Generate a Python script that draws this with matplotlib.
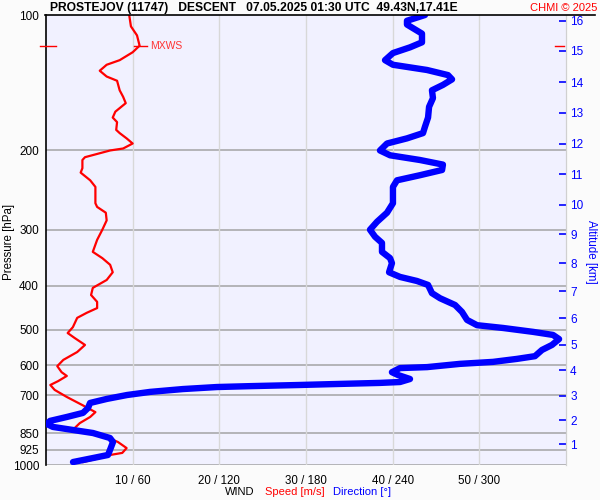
import matplotlib
matplotlib.use("Agg")
import matplotlib.pyplot as plt
from matplotlib.lines import Line2D

plt.rcParams['font.family'] = ['Liberation Sans', 'DejaVu Sans']

# ---- data ----
speed_p = [100, 106, 111, 117, 121, 126, 129, 133, 137, 140, 147, 152, 157, 164, 169, 173,
           180, 183, 188, 193, 198, 200, 207, 210, 219, 224, 233, 241, 262, 267, 275, 286,
           300, 316, 336, 347, 359, 373, 388, 404, 419, 434, 448, 459, 471, 494, 509, 522,
           541, 561, 584, 603, 622, 634, 651, 664, 681, 706, 736, 763, 782, 807, 828, 840,
           867, 889, 917, 940, 950, 965, 985]
speed_ms = [9.6, 9.8, 10.5, 10.8, 10.0, 8.5, 7.0, 6.2, 7.0, 8.2, 8.5, 8.9, 9.2, 8.0, 7.7, 8.2,
            8.1, 8.5, 9.3, 10.0, 8.9, 7.4, 4.5, 4.2, 4.2, 4.0, 5.1, 5.7, 5.7, 5.9, 6.9, 7.0,
            6.5, 5.9, 5.4, 6.5, 7.4, 7.7, 7.0, 5.4, 5.2, 5.9, 5.9, 4.7, 3.6, 3.1, 2.5, 3.3,
            4.5, 3.6, 2.0, 1.3, 1.8, 2.4, 1.4, 0.5, 1.0, 2.4, 4.2, 5.7, 5.1, 3.9, 3.3, 3.9,
            7.0, 8.3, 9.3, 8.8, 7.4, 6.2, 4.3]

dir_p = [100, 103, 105, 110, 115, 118, 121.5, 126, 129, 132.5, 136, 139, 143, 147, 153, 160,
         169, 177, 183, 188, 193, 200, 205, 210, 215, 221, 227, 233, 241, 262, 275, 288,
         300, 311, 321, 336, 347, 356, 373, 382, 390, 398, 415, 426, 441, 457, 476, 489,
         496, 506, 514, 525, 541, 555, 573, 581, 590, 596, 606, 609, 622, 631, 644, 654,
         657, 661, 664, 668, 671, 678, 688, 699, 713, 728, 747, 766, 782, 798, 811, 823,
         836, 849, 871, 889, 926, 950, 965, 985]
dir_deg = [262.4, 249.9, 249.9, 260.3, 260.3, 252.0, 240.2, 234.7, 240.2, 263.8, 278.3, 281.1,
           274.8, 267.2, 267.9, 265.2, 264.5, 262.4, 261.0, 249.9, 236.1, 231.2, 238.2, 258.9,
           274.8, 274.2, 258.9, 243.0, 240.2, 240.2, 236.1, 229.2, 224.3, 227.8, 232.6, 232.6,
           238.2, 239.5, 237.5, 245.1, 256.8, 264.5, 267.2, 272.8, 283.2, 288.0, 291.5, 298.4,
           316.4, 337.2, 351.0, 355.2, 350.3, 343.4, 338.5, 326.1, 309.5, 286.6, 263.8, 245.1,
           239.5, 243.7, 252.0, 245.1, 231.2, 198.7, 175.8, 141.2, 118.4, 94.8, 72.0, 56.1,
           42.2, 30.5, 29.1, 25.6, 14.5, 2.8, 0.7, 4.8, 18.7, 32.5, 44.3, 46.4, 44.3, 42.9,
           32.5, 18.7]

pressure_ticks = [100, 200, 300, 400, 500, 600, 700, 850, 925, 1000]
x_ticks_speed = [10, 20, 30, 40, 50]
x_tick_labels = ['10 / 60', '20 / 120', '30 / 180', '40 / 240', '50 / 300']
alt_km = [1, 2, 3, 4, 5, 6, 7, 8, 9, 10, 11, 12, 13, 14, 15, 16]
alt_p = [899, 795, 701, 616, 540, 472, 411, 356, 307, 264, 226, 193, 165, 141, 120, 103]
mxws_p = 117
mxws_speed = 10.8

title = "PROSTEJOV (11747)   DESCENT   07.05.2025 01:30 UTC  49.43N,17.41E"

# ---- figure ----
W, H = 600, 500
fig = plt.figure(figsize=(6, 5), dpi=100, facecolor='#FBFBFB')
L, R, T, B = 46, 566, 15, 465
ax = fig.add_axes([L / W, 1 - B / H, (R - L) / W, (B - T) / H])
ax.set_facecolor('#F1F1FF')
ax.set_yscale('log')
ax.set_ylim(1000, 100)
ax.set_xlim(0, 60)

# grid lines
for p in pressure_ticks[1:]:
    ax.axhline(p, color='#A4A4A4', lw=1.1, zorder=1)
for s in x_ticks_speed:
    ax.axvline(s, color='#D8D8D8', lw=1.0, zorder=1)

ax.set_yticks(pressure_ticks)
ax.set_yticklabels([str(p) for p in pressure_ticks])
ax.yaxis.set_minor_locator(matplotlib.ticker.NullLocator())
ax.tick_params(axis='y', length=0, pad=5, labelsize=8.5, colors='black')
ax.set_xticks(x_ticks_speed)
ax.set_xticklabels(x_tick_labels)
ax.tick_params(axis='x', length=0, pad=7, labelsize=8.3)

for side in ['top', 'bottom']:
    ax.spines[side].set_visible(False)
ax.spines['left'].set_color('black')
ax.spines['left'].set_linewidth(1.2)
ax.spines['right'].set_color('#D0D0D0')

# data curves
ax.plot(speed_ms, speed_p, color='#FF0000', lw=1.6, zorder=3, solid_joinstyle='round')
ax.plot([d / 6.0 for d in dir_deg], dir_p, color='#0000FF', lw=4.6, zorder=4,
        solid_joinstyle='round', solid_capstyle='round')

# MXWS markers
ax.plot([-0.7, 1.1], [mxws_p, mxws_p], color='#FF0000', lw=1.0, clip_on=False, zorder=5)
ax.plot([mxws_speed - 0.6, mxws_speed + 0.8], [mxws_p, mxws_p], color='#FF0000', lw=1.0, zorder=5)
ax.plot([58.7, 59.8], [mxws_p, mxws_p], color='#FF0000', lw=1.0, clip_on=False, zorder=5)
ax.text(mxws_speed + 1.2, mxws_p, 'MXWS', color='#FF3333', fontsize=7.5, va='center', ha='left')

# right altitude axis
ax2 = ax.twinx()
ax2.set_yscale('log')
ax2.set_ylim(1000, 100)
ax2.set_yticks(alt_p)
ax2.set_yticklabels([str(a) for a in alt_km])
ax2.yaxis.set_minor_locator(matplotlib.ticker.NullLocator())
ax2.tick_params(axis='y', direction='in', length=5, width=1.2, color='#0000FF',
                labelcolor='#0000FF', labelsize=8.5, pad=3)
for side in ['top', 'bottom', 'left']:
    ax2.spines[side].set_visible(False)
ax2.spines['right'].set_color('#D0D0D0')

# axis titles
fig.text(9 / W, 1 - 242 / H, 'Pressure [hPa]', fontsize=8.3, rotation=90,
         va='center', ha='center')
fig.text(591 / W, 1 - 252 / H, 'Altitude [km]', fontsize=8.3, rotation=270,
         color='#0000FF', va='center', ha='center')

# top line and header texts
fig.add_artist(Line2D([45 / W, 595 / W], [1 - 15 / H, 1 - 15 / H], color='black', lw=1.2))
fig.text(50 / W, 1 - 8 / H, title, fontsize=8.7, fontweight='bold', va='center', ha='left')
fig.text(597 / W, 1 - 8 / H, 'CHMI © 2025', fontsize=8, color='#FF0000', va='center', ha='right')

# bottom axis label in three colours
yb = 1 - 492 / H
fig.text(225 / W, yb, 'WIND', fontsize=8, color='black', va='center', ha='left')
fig.text(265 / W, yb, 'Speed [m/s]', fontsize=8, color='#FF0000', va='center', ha='left')
fig.text(333 / W, yb, 'Direction [°]', fontsize=8, color='#0000FF', va='center', ha='left')

fig.savefig('out.png', dpi=100, facecolor=fig.get_facecolor())
